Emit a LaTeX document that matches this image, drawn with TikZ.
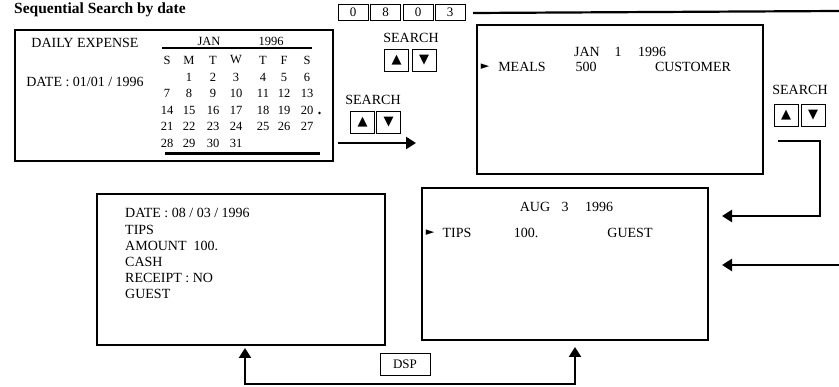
\documentclass[tikz,border=0pt]{standalone}
\usepackage{fontspec}
\setmainfont{Liberation Serif}
\newfontfamily\symfont{DejaVu Sans}
\usetikzlibrary{arrows.meta}
\newcommand{\fs}[1]{\fontsize{#1}{#1}\selectfont}

\begin{document}
\begin{tikzpicture}[x=1pt, y=-1pt,
  screen/.style={draw, line width=1.2pt, inner sep=0pt},
  txt/.style={font=\fs{14}, inner sep=0pt},
  day/.style={font=\fs{12.5}, inner sep=0pt},
  digit/.style={draw, line width=0.9pt, minimum width=30pt, minimum height=16pt, inner sep=0pt, font=\fs{13}},
  key/.style={draw, line width=0.9pt, minimum width=24pt, minimum height=22pt, inner sep=0pt, font=\symfont\fs{13}},
  link/.style={line width=2.4pt, -{Triangle[length=10pt,width=12pt]}}]
\useasboundingbox (0,0) rectangle (839,387);

% Titre
\node[font=\bfseries\fs{15.5}, inner sep=0pt] (title) at (100,10) {Sequential Search by date};

% Ecran 1 : calendrier
\node[screen, minimum width=318pt, minimum height=131pt] (expense) at (174,95.5) {};
\node[txt] (daily) at (85,43) {DAILY EXPENSE};
\node[txt] (date1) at (85,82) {DATE : 01/01 / 1996};
\node[day] (month) at (209,41) {JAN};
\node[day] (year) at (271,41) {1996};
\draw[line width=2.6pt] (162,48) -- (312,48);
\foreach \l [count=\i from 0] in {S,M,T,W,T,F,S}
  \node[day] (h\i) at ({{167,189,213,236,263,284,307}[\i]},60) {\l};
\foreach \d in {1,...,31} {
  \pgfmathtruncatemacro\c{mod(\d,7)}
  \pgfmathtruncatemacro\r{div(\d,7)}
  \node[day] (c\d) at ({{167,189,213,236,263,284,307}[\c]},77+16.5*\r) {\d};
}
\fill (319.5,113) circle (1.4);
\draw[line width=3pt] (165,154) -- (320,154);

% Saisie de la date
\node[digit] (d0) at (353,12) {0};
\node[digit] (d1) at (385.5,12) {8};
\node[digit] (d2) at (418,12) {0};
\node[digit] (d3) at (450,12) {3};
\node[txt] (search1) at (411,38) {SEARCH};
\node[key] (up1) at (396.5,60.5) {▲};
\node[key] (dn1) at (424,60.5) {▼};

% Recherche vers l'ecran 2
\node[txt] (search2) at (373,100) {SEARCH};
\node[key] (up2) at (362.5,122) {▲};
\node[key] (dn2) at (388.5,122) {▼};
\coordinate (a1) at (338,143);
\coordinate (a2) at (416,143);
\draw[link] (a1) -- (a2);

% Ecran 2 : JAN 1
\node[screen, minimum width=286pt, minimum height=149pt] (meals) at (620,99.5) {};
\node[txt] (m1) at (587,52) {JAN};
\node[txt] (m2) at (618,52) {1};
\node[txt] (m3) at (652,52) {1996};
\node[font=\symfont\fs{11}, inner sep=0pt] (p1) at (485,67) {►};
\node[txt] (m4) at (522,67) {MEALS};
\node[txt] (m5) at (586,67) {500};
\node[txt] (m6) at (693,67) {CUSTOMER};

% Ligne du haut
\coordinate (t1) at (473,13);
\coordinate (t2) at (839,11);
\draw[line width=2.2pt] (t1) -- (t2);

% Recherche vers l'ecran 3
\node[txt] (search3) at (800,90) {SEARCH};
\node[key] (up3) at (786,115) {▲};
\node[key] (dn3) at (813,115) {▼};
\coordinate (r1) at (778,141);
\coordinate (r2) at (820,141);
\coordinate (r3) at (820,216);
\coordinate (e1) at (722,216);
\draw[link] (r1) -- (r2) -- (r3) -- (e1);
\coordinate (r4) at (839,265);
\coordinate (e2) at (722,265);
\draw[link] (r4) -- (e2);

% Ecran 3 : AUG 3
\node[screen, minimum width=286pt, minimum height=152pt] (tips) at (565,264) {};
\node[txt] (g1) at (535,207) {AUG};
\node[txt] (g2) at (565,207) {3};
\node[txt] (g3) at (599,207) {1996};
\node[font=\symfont\fs{11}, inner sep=0pt] (p2) at (430,233) {►};
\node[txt] (g4) at (457,233) {TIPS};
\node[txt] (g5) at (526,233) {100.};
\node[txt] (g6) at (630,233) {GUEST};

% Ecran 4 : detail
\node[screen, minimum width=288pt, minimum height=151pt] (detail) at (241,269.5) {};
\node[txt, anchor=west] (l1) at (125,213) {DATE : 08 / 03 / 1996};
\node[txt, anchor=west] (l2) at (125,230) {TIPS};
\node[txt, anchor=west] (l3) at (125,246) {AMOUNT \ 100.};
\node[txt, anchor=west] (l4) at (125,262) {CASH};
\node[txt, anchor=west] (l5) at (125,278) {RECEIPT : NO};
\node[txt, anchor=west] (l6) at (125,294) {GUEST};

% DSP
\node[draw, line width=0.9pt, minimum width=50pt, minimum height=22pt, inner sep=0pt, font=\fs{13}] (dsp) at (405,364) {DSP};
\coordinate (b1) at (245,348);
\coordinate (b3) at (575,384);
\coordinate (b4) at (575,347);
\draw[line width=2.4pt, {Triangle[length=10pt,width=12pt]}-{Triangle[length=10pt,width=12pt]}] (b1) |- (b3) -- (b4);
\end{tikzpicture}
\end{document}
